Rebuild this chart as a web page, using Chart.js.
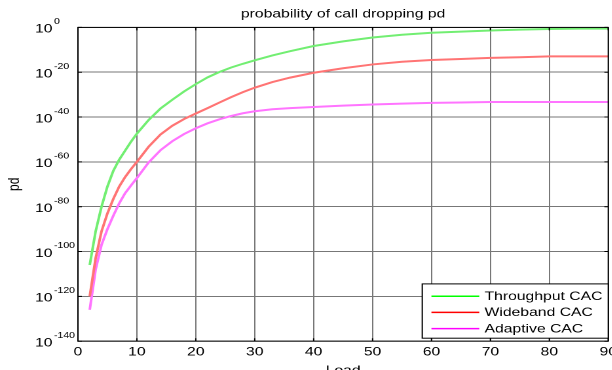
<!DOCTYPE html>
<html>
<head>
<meta charset="utf-8">
<script src="https://cdn.jsdelivr.net/npm/chart.js@4.4.0/dist/chart.umd.min.js"></script>
<style>
  html, body { margin: 0; padding: 0; overflow: hidden; background: #fff; width: 612px; height: 370px; }
  /* the original picture is stretched sideways, so the whole chart is too */
  #wrap { transform: scaleX(1.31); transform-origin: 0 0; width: 475px; height: 385px; }
</style>
</head>
<body>
<div id="wrap"><canvas id="pdChart" width="475" height="385"></canvas></div>
<script>
const FONT = '"Liberation Sans", Arial, sans-serif';

const loads = [2, 3, 4, 5, 6, 7, 8, 9, 10, 12, 14, 16, 18, 20, 22, 24, 26, 28, 30, 33, 36, 40, 45, 50, 55, 60, 65, 70, 75, 80, 85, 90];

const throughputCAC = [1e-106, 1e-91, 1e-80, 1e-71, 1e-64, 1e-59, 1e-55, 1e-51, 4e-48, 5e-42, 6e-37, 5e-33, 2.5e-29, 5e-26, 5e-23, 1.3e-20,
  1.3e-18, 6e-17, 2e-15, 3e-13, 2.5e-11, 5e-9, 6e-7, 3e-5, 5e-4, 4e-3, 1.3e-2, 4e-2, 0.1, 0.2, 0.28, 0.3];

const widebandCAC = [1e-120, 1e-103, 1e-91, 1e-83, 3e-77, 1e-71, 1.6e-67, 6e-64, 1e-60, 6e-54, 1.6e-48, 1.3e-44, 1.3e-41, 4e-39, 1e-36, 3e-34,
  8e-32, 1.3e-29, 1.3e-27, 4e-25, 4e-23, 6e-21, 6e-19, 3e-17, 5e-16, 3e-15, 8e-15, 2.5e-14, 5e-14, 1.2e-13, 1.2e-13, 1.2e-13];

const adaptiveCAC = [1e-126, 1e-108, 1e-97, 1e-90, 1e-84, 3e-79, 1e-74, 3e-71, 6e-68, 6e-61, 1.6e-55, 1.6e-51, 2.5e-48, 1e-45, 1.6e-43, 1e-41,
  3e-40, 5e-39, 4e-38, 3e-37, 1e-36, 3e-36, 1.3e-35, 4e-35, 1e-34, 2e-34, 3e-34, 5e-34, 5e-34, 5e-34, 5e-34, 5e-34];

const seriesNames = ["Throughput CAC", "Wideband CAC", "Adaptive CAC"];
const lineColors = ["#72ee72", "#ff7474", "#ff74ff"];
const legendColors = ["#00ff00", "#ff0000", "#ff00ff"];

const yTickValues = [1, 1e-20, 1e-40, 1e-60, 1e-80, 1e-100, 1e-120, 1e-140];
const yTickExponents = ["0", "-20", "-40", "-60", "-80", "-100", "-120", "-140"];

function toPoints(values) {
  return loads.map((x, i) => ({ x: x, y: values[i] }));
}

// frame + small inward tick marks, like the matlab axes box
const framePlugin = {
  id: "frame",
  afterDraw(chart) {
    const { ctx, chartArea: a, scales } = chart;
    ctx.save();
    ctx.strokeStyle = "#000";
    ctx.lineWidth = 1;
    ctx.strokeRect(a.left, a.top, a.right - a.left, a.bottom - a.top);
    ctx.beginPath();
    scales.x.ticks.forEach(t => {
      const px = scales.x.getPixelForValue(t.value);
      ctx.moveTo(px, a.top); ctx.lineTo(px, a.top + 3);
      ctx.moveTo(px, a.bottom); ctx.lineTo(px, a.bottom - 3);
    });
    scales.y.ticks.forEach(t => {
      const py = scales.y.getPixelForValue(t.value);
      ctx.moveTo(a.left, py); ctx.lineTo(a.left + 3, py);
      ctx.moveTo(a.right, py); ctx.lineTo(a.right - 3, py);
    });
    ctx.stroke();

    // y tick labels: 10 with a raised exponent
    ctx.fillStyle = "#000";
    ctx.textAlign = "left";
    ctx.textBaseline = "middle";
    yTickValues.forEach((v, i) => {
      const py = scales.y.getPixelForValue(v);
      ctx.font = "12px " + FONT;
      const x0 = 26.7;
      ctx.fillText("10", x0, py + 2);
      const w = ctx.measureText("10").width;
      ctx.font = "8px " + FONT;
      ctx.fillText(yTickExponents[i], x0 + w + 1.2, py - 5.5);
    });
    ctx.restore();
  }
};

// legend box inside the lower right corner
const legendBoxPlugin = {
  id: "legendBox",
  afterDraw(chart) {
    const { ctx, chartArea: a } = chart;
    const right = a.right;
    const left = right - 142;
    const bottom = a.bottom - 3;
    const top = bottom - 54.3;
    ctx.save();
    ctx.fillStyle = "#fff";
    ctx.fillRect(left, top, right - left, bottom - top);
    ctx.strokeStyle = "#000";
    ctx.lineWidth = 1;
    ctx.strokeRect(left, top, right - left, bottom - top);
    ctx.font = "12px " + FONT;
    ctx.textBaseline = "middle";
    ctx.textAlign = "left";
    seriesNames.forEach((name, i) => {
      const y = top + 12.3 + i * 16.2;
      ctx.strokeStyle = legendColors[i];
      ctx.lineWidth = 1.5;
      ctx.beginPath();
      ctx.moveTo(left + 7, y);
      ctx.lineTo(left + 43.5, y);
      ctx.stroke();
      ctx.fillStyle = "#000";
      ctx.fillText(name, left + 47.5, y + 0.5);
    });
    ctx.restore();
  }
};

const ctx = document.getElementById("pdChart").getContext("2d");
new Chart(ctx, {
  type: "line",
  data: {
    datasets: [throughputCAC, widebandCAC, adaptiveCAC].map((vals, i) => ({
      label: seriesNames[i],
      data: toPoints(vals),
      borderColor: lineColors[i],
      backgroundColor: lineColors[i],
      borderWidth: 2,
      pointRadius: 0,
      tension: 0,
      fill: false
    }))
  },
  options: {
    responsive: false,
    animation: false,
    devicePixelRatio: 2,
    layout: { padding: { left: 0, right: 0, top: 1, bottom: 0 } },
    plugins: {
      legend: { display: false },
      tooltip: { enabled: false },
      title: {
        display: true,
        fullSize: false,
        text: "probability of call dropping pd",
        color: "#000",
        font: { family: FONT, size: 12, weight: "normal" },
        padding: { top: 6, bottom: 6 }
      }
    },
    scales: {
      x: {
        type: "linear",
        min: 0,
        max: 90,
        ticks: { stepSize: 10, color: "#000", padding: 4, maxRotation: 0, font: { family: FONT, size: 12 } },
        grid: { color: "#777", lineWidth: 1, drawTicks: false },
        border: { display: false },
        title: {
          display: true,
          text: "Load",
          color: "#000",
          font: { family: FONT, size: 12 },
          padding: { top: 0, bottom: 7 }
        }
      },
      y: {
        type: "logarithmic",
        min: 1e-140,
        max: 1,
        afterBuildTicks(scale) {
          scale.ticks = yTickValues.map(v => ({ value: v }));
        },
        afterFit(scale) {
          scale.width = 59.5;
        },
        ticks: { display: false },
        grid: { color: "#777", lineWidth: 1, drawTicks: false },
        border: { display: false },
        title: {
          display: true,
          text: "pd",
          color: "#000",
          font: { family: FONT, size: 12 },
          padding: { top: 4 }
        }
      }
    }
  },
  plugins: [framePlugin, legendBoxPlugin]
});
</script>
</body>
</html>
